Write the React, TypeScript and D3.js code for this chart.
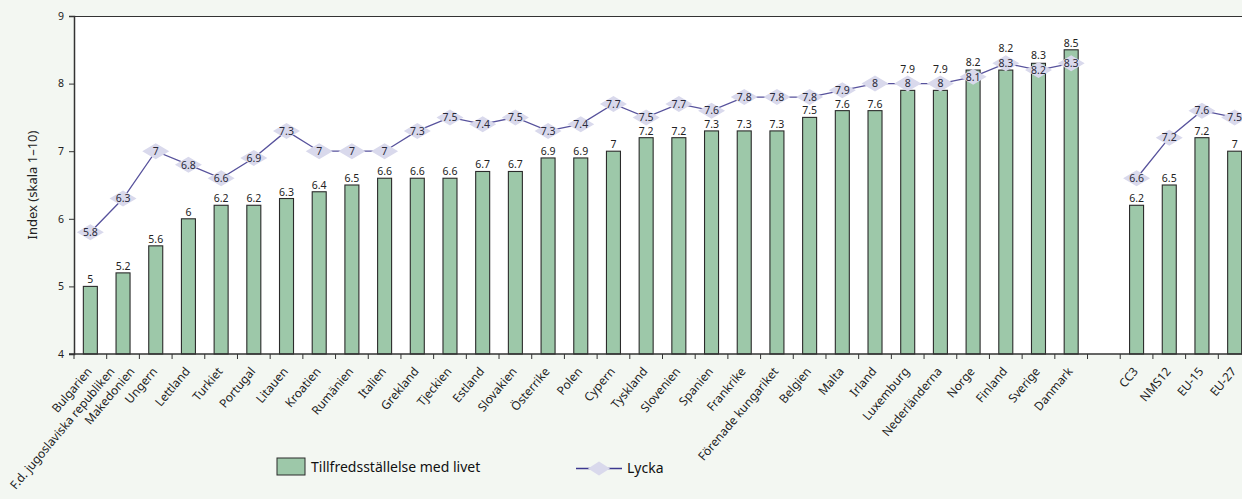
import { useEffect, useRef } from 'react';
import * as d3 from 'd3';

// Countries (sorted by satisfaction) followed by a gap and the country groups
const countries = [
  'Bulgarien', 'F.d. jugoslaviska republiken|Makedonien', 'Ungern', 'Lettland', 'Turkiet',
  'Portugal', 'Litauen', 'Kroatien', 'Rumänien', 'Italien', 'Grekland', 'Tjeckien',
  'Estland', 'Slovakien', 'Österrike', 'Polen', 'Cypern', 'Tyskland', 'Slovenien',
  'Spanien', 'Frankrike', 'Förenade kungariket', 'Belgien', 'Malta', 'Irland',
  'Luxemburg', 'Nederländerna', 'Norge', 'Finland', 'Sverige', 'Danmark'
];
const groups = ['CC3', 'NMS12', 'EU-15', 'EU-27'];

const satisfactionCountries = [
  5, 5.2, 5.6, 6, 6.2, 6.2, 6.3, 6.4, 6.5, 6.6, 6.6, 6.6, 6.7, 6.7, 6.9, 6.9,
  7, 7.2, 7.2, 7.3, 7.3, 7.3, 7.5, 7.6, 7.6, 7.9, 7.9, 8.2, 8.2, 8.3, 8.5
];
const happinessCountries = [
  5.8, 6.3, 7, 6.8, 6.6, 6.9, 7.3, 7, 7, 7, 7.3, 7.5, 7.4, 7.5, 7.3, 7.4,
  7.7, 7.5, 7.7, 7.6, 7.8, 7.8, 7.8, 7.9, 8, 8, 8, 8.1, 8.3, 8.2, 8.3
];
const satisfactionGroups = [6.2, 6.5, 7.2, 7];
const happinessGroups = [6.6, 7.2, 7.6, 7.5];

const yTicks = [4, 5, 6, 7, 8, 9];

const WIDTH = 1242;
const HEIGHT = 499;
const FONT = '"Noto Sans", "Open Sans", sans-serif';

type Point = { key: string; value: number; happy?: number };

export default function App() {
  const svgRef = useRef<SVGSVGElement>(null);

  useEffect(() => {
    document.body.style.margin = '0';
    if (!svgRef.current) return;
    const svg = d3.select(svgRef.current);
    svg.selectAll('*').remove();

    const gapKey = '__gap__';
    const domain = [...countries, gapKey, ...groups];

    const x = d3.scaleBand<string>()
      .domain(domain)
      .range([74, 1251])
      .paddingInner(0)
      .paddingOuter(0);
    const y = d3.scaleLinear().domain([4, 9]).range([354, 16]);
    const barW = 14;
    const dW = 27;
    const dH = 16;
    const cx = (k: string) => (x(k) as number) + x.bandwidth() / 2;

    const bars: Point[] = [
      ...countries.map((c, i) => ({ key: c, value: satisfactionCountries[i], happy: happinessCountries[i] })),
      ...groups.map((c, i) => ({ key: c, value: satisfactionGroups[i], happy: happinessGroups[i] }))
    ];
    const lineA: Point[] = countries.map((c, i) => ({ key: c, value: happinessCountries[i] }));
    const lineB: Point[] = groups.map((c, i) => ({ key: c, value: happinessGroups[i] }));

    // background
    svg.append('rect')
      .attr('width', WIDTH).attr('height', HEIGHT)
      .attr('fill', '#f3f7f2');

    // plot area
    svg.append('rect')
      .attr('x', 74).attr('y', 16)
      .attr('width', 1251 - 74).attr('height', 354 - 16)
      .attr('fill', '#ffffff');
    svg.append('line')
      .attr('x1', 74).attr('x2', 1251)
      .attr('y1', 16.5).attr('y2', 16.5)
      .attr('stroke', '#333').attr('stroke-width', 1);

    // bars
    svg.append('g').selectAll('rect')
      .data(bars)
      .join('rect')
      .attr('x', d => cx(d.key) - barW / 2)
      .attr('y', d => y(d.value))
      .attr('width', barW)
      .attr('height', d => y(4) - y(d.value))
      .attr('fill', '#9dc8a9')
      .attr('stroke', '#2b2b2b')
      .attr('stroke-width', 1.1);

    // bar labels, lifted above the diamond when they would collide
    const labelY = (d: Point) => {
      const top = y(d.value);
      const dy = y(d.happy as number);
      if (dy > top - 19 && dy < top + 8) return Math.min(top - 3, dy - dH / 2 - 3);
      return top - 3;
    };
    svg.append('g').selectAll('text')
      .data(bars)
      .join('text')
      .attr('x', d => cx(d.key))
      .attr('y', labelY)
      .attr('text-anchor', 'middle')
      .attr('font-family', FONT)
      .attr('font-size', 10.5)
      .attr('fill', '#222')
      .text(d => String(d.value));

    // lines
    const line = d3.line<Point>()
      .x(d => cx(d.key))
      .y(d => y(d.value));
    [lineA, lineB].forEach(data => {
      svg.append('path')
        .datum(data)
        .attr('fill', 'none')
        .attr('stroke', '#57529c')
        .attr('stroke-width', 1.3)
        .attr('d', line);
    });

    const diamond = (w: number, h: number) =>
      `M${-w / 2},0L0,${-h / 2}L${w / 2},0L0,${h / 2}Z`;

    const markers = [...lineA, ...lineB];
    const mg = svg.append('g').selectAll('g')
      .data(markers)
      .join('g')
      .attr('transform', d => `translate(${cx(d.key)},${y(d.value)})`);
    mg.append('path')
      .attr('d', diamond(dW, dH))
      .attr('fill', '#d9d9ec');
    mg.append('text')
      .attr('text-anchor', 'middle')
      .attr('dy', '0.36em')
      .attr('font-family', FONT)
      .attr('font-size', 10.5)
      .attr('fill', '#2a2a3a')
      .text(d => String(d.value));

    // y axis
    const yAxis = svg.append('g').attr('transform', 'translate(74,0)')
      .call(d3.axisLeft(y).tickValues(yTicks).tickSize(5).tickFormat(d3.format('d')));
    yAxis.select('.domain').attr('stroke', '#333').attr('stroke-width', 1.5);
    yAxis.selectAll('line').attr('stroke', '#333');
    yAxis.selectAll('text')
      .attr('font-family', FONT)
      .attr('font-size', 10.5)
      .attr('fill', '#222')
      .attr('x', -10);

    // x axis line and ticks at slot boundaries
    svg.append('line')
      .attr('x1', 69).attr('x2', 1251)
      .attr('y1', 354).attr('y2', 354)
      .attr('stroke', '#333').attr('stroke-width', 1.5);
    svg.append('g').selectAll('line')
      .data(domain)
      .join('line')
      .attr('x1', d => x(d) as number)
      .attr('x2', d => x(d) as number)
      .attr('y1', 354).attr('y2', 359)
      .attr('stroke', '#333');

    // x labels (two-line labels are split side by side along the axis)
    const labelParts: { text: string; px: number }[] = [];
    [...countries, ...groups].forEach(d => {
      const parts = d.split('|');
      parts.forEach((p, i) => {
        const off = (i - (parts.length - 1) / 2) * 20;
        labelParts.push({ text: p, px: cx(d) - 1 + off });
      });
    });
    svg.append('g').selectAll('text')
      .data(labelParts)
      .join('text')
      .attr('transform', d => `translate(${d.px},369) rotate(-50)`)
      .attr('text-anchor', 'end')
      .attr('dy', '0.35em')
      .attr('font-family', FONT)
      .attr('font-size', 12)
      .attr('fill', '#222')
      .text(d => d.text);

    // y label
    svg.append('text')
      .attr('transform', `translate(37,${185}) rotate(-90)`)
      .attr('text-anchor', 'middle')
      .attr('font-family', FONT)
      .attr('font-size', 13)
      .attr('fill', '#222')
      .text('Index (skala 1–10)');

    // legend
    const leg = svg.append('g');
    leg.append('rect')
      .attr('x', 277).attr('y', 458)
      .attr('width', 28).attr('height', 17)
      .attr('fill', '#9dc8a9')
      .attr('stroke', '#2b2b2b');
    leg.append('text')
      .attr('x', 311).attr('y', 472)
      .attr('font-family', FONT)
      .attr('font-size', 14)
      .attr('fill', '#111')
      .text('Tillfredsställelse med livet');
    leg.append('line')
      .attr('x1', 576).attr('x2', 622)
      .attr('y1', 468.5).attr('y2', 468.5)
      .attr('stroke', '#3c3890').attr('stroke-width', 1.5);
    leg.append('path')
      .attr('transform', 'translate(599,468.5)')
      .attr('d', diamond(22, 14))
      .attr('fill', '#d9d9ec');
    leg.append('text')
      .attr('x', 627).attr('y', 473)
      .attr('font-family', FONT)
      .attr('font-size', 14)
      .attr('fill', '#111')
      .text('Lycka');
  }, []);

  return (
    <div style={{ position: 'absolute', left: 0, top: 0 }}>
      <svg ref={svgRef} width={WIDTH} height={HEIGHT} style={{ display: 'block' }} />
    </div>
  );
}
